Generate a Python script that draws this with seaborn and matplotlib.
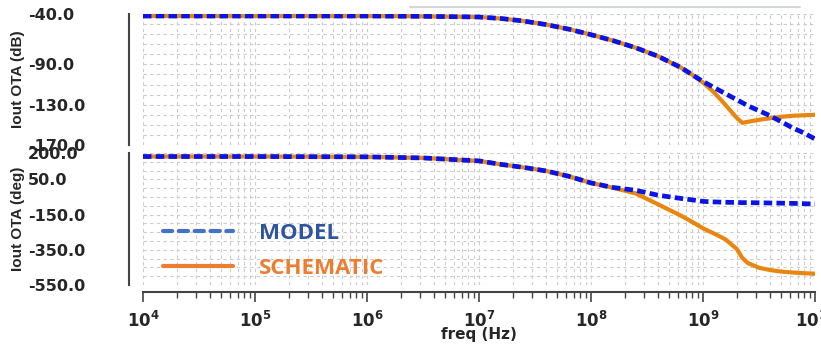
import numpy as np
import pandas as pd
import seaborn as sns
import matplotlib.pyplot as plt
from matplotlib.lines import Line2D
from matplotlib.ticker import FixedLocator, FixedFormatter, MultipleLocator, LogLocator, NullFormatter

sns.set_style("white")
plt.rcParams["font.family"] = ["DejaVu Sans"]
plt.rcParams["font.weight"] = "bold"
plt.rcParams["mathtext.fontset"] = "custom"
plt.rcParams["mathtext.bf"] = "DejaVu Sans:bold"
plt.rcParams["mathtext.default"] = "bf"

# frequency points (Hz)
freq = [1e4, 1e5, 1e6, 3.16e6, 1e7, 1.58e7, 2.51e7, 3.98e7, 6.31e7, 1e8,
        1.58e8, 2.51e8, 3.98e8, 6.31e8, 7.94e8, 1e9, 1.26e9, 1.58e9, 2e9,
        2.24e9, 2.51e9, 3.16e9, 3.98e9, 5.01e9, 6.31e9, 7.94e9, 1e10]

# magnitude (dB)
mag_model = [-42, -42, -42, -42.3, -43, -44.5, -47, -50.5, -55, -60.5,
             -66.5, -73.5, -82, -93, -100, -107, -113, -119, -125,
             -128, -131, -136, -141, -147, -153, -158, -164]
mag_schem = [-42, -42, -42, -42.3, -43, -44.5, -47, -50.5, -55, -60.5,
             -66.5, -73.5, -82, -93, -100, -108, -118, -130, -143,
             -148, -147, -145, -143.5, -142, -141, -140.5, -140]

# phase (deg)
ph_model = [180, 180, 178, 172, 155, 135, 118, 98, 68, 30,
            4, -12, -40, -58, -66, -75, -78, -80, -81,
            -82, -82, -83, -84, -85, -86, -88, -90]
ph_schem = [180, 180, 178, 172, 155, 135, 118, 98, 68, 30,
            2, -30, -92, -155, -190, -228, -258, -290, -345,
            -395, -425, -452, -465, -474, -479, -483, -486]

mag_ticks = [-40, -90, -130, -170]
ph_ticks = [200, 50, -150, -350, -550]

blue = "#0a14e6"
orange = "#e8860f"

df = pd.DataFrame({"freq": freq, "mag_model": mag_model, "mag_schem": mag_schem,
                   "ph_model": ph_model, "ph_schem": ph_schem})

fig = plt.figure(figsize=(8.21, 3.45), dpi=100)
W, H = 821, 345
x0, x1 = 143, 815
ax1 = fig.add_axes([x0 / W, 1 - 145 / H, (x1 - x0) / W, 131 / H])
ax2 = fig.add_axes([x0 / W, 1 - 285 / H, (x1 - x0) / W, 132 / H])

for ax, ycols, ylim, ticks, minor, gstep, ylab in [
        (ax1, ("mag_schem", "mag_model"), (-170, -40), mag_ticks, 5, 10, "Iout OTA (dB)"),
        (ax2, ("ph_schem", "ph_model"), (-550, 200), ph_ticks, 25, 50, "Iout OTA (deg)")]:
    ax.set_xscale("log")
    ax.set_xlim(1e4, 1e10)
    ax.set_ylim(*ylim)
    # grid
    for v in np.arange(ylim[0], ylim[1] + 1, gstep):
        ax.axhline(v, color="#cccccc", lw=0.8, ls=(0, (3, 3)), zorder=0)
    ax.xaxis.set_major_locator(LogLocator(base=10, numticks=10))
    ax.xaxis.set_minor_locator(LogLocator(base=10, subs=np.arange(2, 10), numticks=100))
    ax.grid(True, axis="x", which="both", color="#cccccc", lw=0.8, ls=(0, (3, 3)))
    sns.lineplot(data=df, x="freq", y=ycols[0], ax=ax, color=orange, lw=3.0,
                 solid_capstyle="round")
    sns.lineplot(data=df, x="freq", y=ycols[1], ax=ax, color=blue, lw=3.4,
                 dashes=False, linestyle=(0, (1.8, 0.9)))
    ax.yaxis.set_major_locator(FixedLocator(ticks))
    ax.yaxis.set_major_formatter(FixedFormatter(["%.1f" % t for t in ticks]))
    ax.yaxis.set_minor_locator(MultipleLocator(minor))
    ax.tick_params(axis="y", which="major", length=5, width=1, pad=68,
                   color="#444444", labelsize=11.5)
    ax.tick_params(axis="y", which="minor", length=4, width=0.8, color="#444444")
    ax.spines["left"].set_position(("outward", 10))
    ax.spines["left"].set_color("#444444")
    ax.spines["left"].set_linewidth(1.5)
    ax.spines["top"].set_visible(False)
    ax.spines["right"].set_visible(False)
    ax.set_ylabel(ylab, family="Liberation Sans", fontweight="bold", fontsize=11)
    ax.yaxis.set_label_coords(-0.176, 0.5)
    ax.set_facecolor("white")

ax1.spines["bottom"].set_visible(False)
ax1.tick_params(axis="x", which="both", bottom=False, labelbottom=False)
ax1.set_xlabel("")

ax2.spines["bottom"].set_position(("outward", 5))
ax2.spines["bottom"].set_color("#444444")
ax2.spines["bottom"].set_linewidth(1.5)
ax2.tick_params(axis="x", which="major", bottom=True, length=7, width=1.2, color="#444444", pad=7)
ax2.tick_params(axis="x", which="minor", bottom=True, length=4, width=1, color="#444444")
exps = range(4, 11)
ax2.set_xticks([10.0 ** e for e in exps])
ax2.set_xticklabels([r"$10^{%d}$" % e for e in exps], fontsize=12)
ax2.xaxis.set_minor_formatter(NullFormatter())
ax2.set_xlabel("freq (Hz)", fontweight="bold", fontsize=11)
ax2.xaxis.set_label_coords(0.5, -0.32)

handles = [Line2D([], [], color="#4472c4", lw=3, ls=(0, (2.2, 1.6)), dash_capstyle="round"),
           Line2D([], [], color="#ed7d31", lw=3)]
ax2.legend(handles, ["MODEL", "SCHEMATIC"], loc="upper left", bbox_to_anchor=(0.03, 0.47),
           frameon=False, borderaxespad=0, borderpad=0, handlelength=3.15,
           handletextpad=1.17, labelspacing=0.62,
           labelcolor=["#2f55a0", "#ed7d31"],
           prop={"family": "Open Sans", "weight": "bold", "size": 16})

fig.add_artist(Line2D([410 / W, 800 / W], [1 - 7 / H, 1 - 7 / H],
                      transform=fig.transFigure, color="#d4d7dc", lw=1.5))

fig.canvas.draw()
for ax in (ax1, ax2):
    for lab in ax.get_yticklabels():
        lab.set_horizontalalignment("left")

fig.savefig("out.png", dpi=100, facecolor="white")
